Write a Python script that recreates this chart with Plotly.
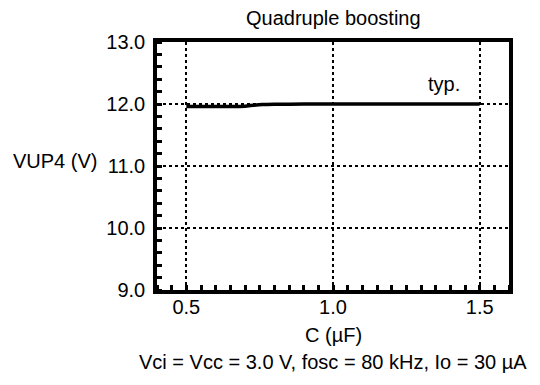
import plotly.graph_objects as go

# Output voltage in quadruple boosting mode vs. capacitor value (typical)
cap_uF = [0.50, 0.55, 0.60, 0.65, 0.70, 0.73, 0.76, 0.80, 0.90, 1.00, 1.10, 1.20, 1.30, 1.40, 1.50]
vup4_V = [11.96, 11.96, 11.96, 11.96, 11.965, 11.98, 11.99, 11.995, 12.0, 12.0, 12.0, 12.0, 12.0, 12.0, 12.0]

x_tick_vals = [0.5, 1.0, 1.5]
x_tick_text = ["0.5", "1.0", "1.5"]
y_tick_vals = [9.0, 10.0, 11.0, 12.0, 13.0]
y_tick_text = ["9.0", "10.0", "11.0", "12.0", "13.0"]

FONT = "Liberation Sans, Arial, Helvetica, sans-serif"

fig = go.Figure()
fig.add_trace(go.Scatter(
    x=cap_uF, y=vup4_V, mode="lines",
    line=dict(color="black", width=3.5, shape="spline", smoothing=0.6),
    showlegend=False, hoverinfo="skip",
))

axis_common = dict(
    showline=True, linecolor="black", linewidth=3.5, mirror=True,
    showgrid=True, gridcolor="black", gridwidth=1.5, griddash="dot",
    ticks="", zeroline=False,
    tickfont=dict(family=FONT, size=20, color="black"),
)

fig.update_xaxes(
    range=[0.4, 1.6], tickmode="array", tickvals=x_tick_vals, ticktext=x_tick_text,
    ticklabelstandoff=-4,
    minor=dict(dtick=0.05, tick0=0.4, ticks="inside", ticklen=5, tickwidth=2.5,
               tickcolor="black", showgrid=False),
    **axis_common,
)
fig.update_yaxes(
    range=[9.0, 13.0], tickmode="array", tickvals=y_tick_vals, ticktext=y_tick_text,
    ticklabelstandoff=4,
    minor=dict(dtick=0.2, tick0=9.0, ticks="inside", ticklen=5, tickwidth=2.5,
               tickcolor="black", showgrid=False),
    **axis_common,
)

txt = dict(family=FONT, size=20, color="black")
fig.update_layout(
    width=540, height=385,
    margin=dict(l=157, r=31, t=42, b=95),
    paper_bgcolor="white", plot_bgcolor="white",
    font=txt,
    annotations=[
        dict(text="Quadruple boosting", xref="paper", yref="paper", x=0.5, y=1,
             yshift=24, xanchor="center", yanchor="middle", showarrow=False, font=txt),
        dict(text="typ.", xref="x", yref="y", x=1.44, y=12.33,
             xanchor="right", yanchor="middle", showarrow=False, font=txt),
        dict(text="VUP4 (V)", xref="paper", yref="paper", x=0, y=0.52,
             xshift=-58, xanchor="right", yanchor="middle", showarrow=False, font=txt),
        dict(text="C (\u00b5F)", xref="paper", yref="paper", x=0.5, y=0,
             yshift=-45, xanchor="center", yanchor="middle", showarrow=False, font=txt),
        dict(text="Vci = Vcc = 3.0 V, fosc = 80 kHz, Io = 30 \u00b5A", xref="paper", yref="paper",
             x=0.5, y=0, yshift=-72, xanchor="center", yanchor="middle", showarrow=False, font=txt),
    ],
)

fig.write_html("out.html")
